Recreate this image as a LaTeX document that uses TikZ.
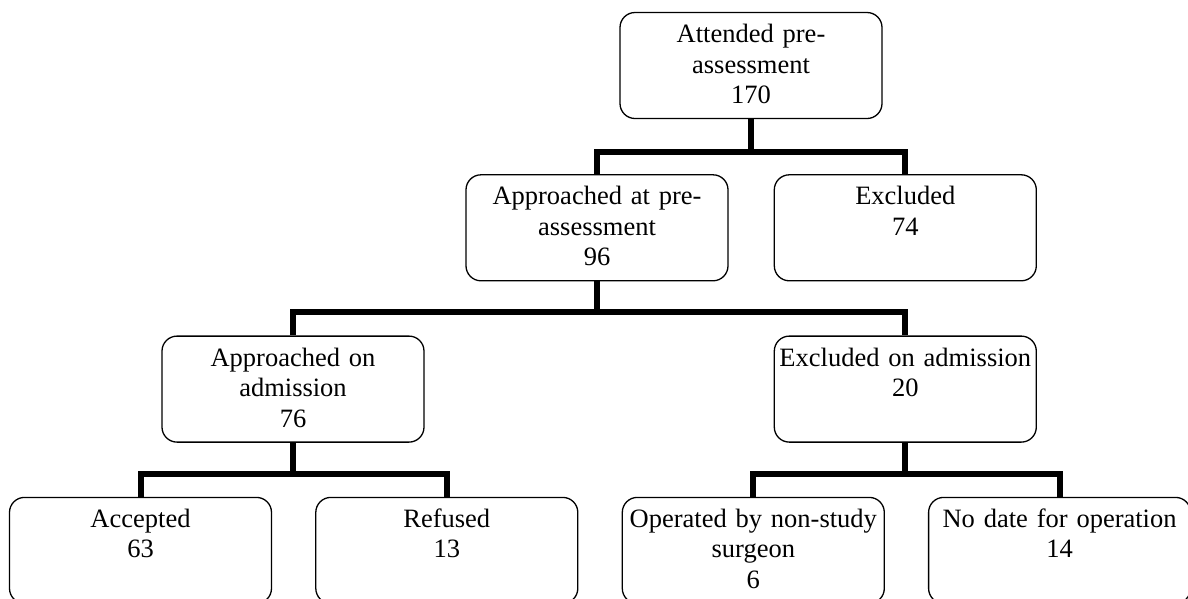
\documentclass[tikz,border=0pt]{standalone}
\usepackage{fontspec}
\setmainfont{Liberation Serif}
\usetikzlibrary{positioning}

\begin{document}
\begin{tikzpicture}[
    node distance=54pt and 43pt,
    box/.style={rectangle, draw, line width=1.3pt, rounded corners=15pt, minimum width=262pt, text width=258pt, align=center, inner sep=0pt, text height=30pt, text depth=76pt, font=\fontsize{26.5pt}{30.5pt}\selectfont},
    link/.style={line width=6pt}
]

% Frame
\path[use as bounding box, fill=white] (0pt,0pt) rectangle (1188pt,-598pt);

% Boxes
\node[box] (attended) at (751pt,-65.5pt) {Attended pre-\\assessment\\170};
\node[box, below=55pt of attended, xshift=-154pt] (approached-pre) {Approached at pre-\\assessment\\96};
\node[box, right=45pt of approached-pre] (excluded) {Excluded\\74};
\node[box, below=of approached-pre, xshift=-304pt] (approached-adm) {Approached on\\admission\\76};
\node[box, below=of excluded] (excluded-adm) {Excluded on admission\\20};
\node[box, below=of approached-adm, xshift=-152.5pt] (accepted) {Accepted\\63};
\node[box, right=of accepted] (refused) {Refused\\13};
\node[box, below=of excluded-adm, xshift=-152pt] (non-study) {Operated by non-study\\surgeon\\6};
\node[box, right=of non-study] (no-date) {No date for operation\\14};

% Connectors
\draw[link] (attended.south) -- ++(0,-33pt) coordinate (split-1) -| (approached-pre.north);
\draw[link] (split-1) -| (excluded.north);
\draw[link] (approached-pre.south) -- ++(0,-31pt) coordinate (split-2) -| (approached-adm.north);
\draw[link] (split-2) -| (excluded-adm.north);
\draw[link] (approached-adm.south) -- ++(0,-31pt) coordinate (split-3) -| (accepted.north);
\draw[link] (split-3) -| (refused.north);
\draw[link] (excluded-adm.south) -- ++(0,-31pt) coordinate (split-4) -| (non-study.north);
\draw[link] (split-4) -| (no-date.north);

\end{tikzpicture}
\end{document}
